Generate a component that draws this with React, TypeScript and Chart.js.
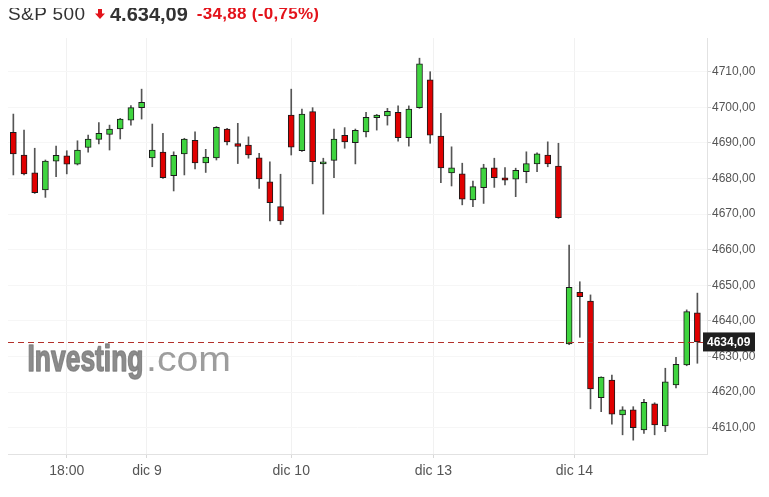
import React, { useEffect, useRef } from "react";
import { Chart, registerables } from "chart.js";

Chart.register(...registerables);

// 30-minute candles, 8-14 Dec
const OPEN = [
  4693.0, 4686.6, 4681.6, 4676.8, 4684.9, 4686.4, 4684.0, 4688.7, 4691.0, 4692.4, 4693.9, 4696.4, 4699.9,
  4685.8, 4687.4, 4680.8, 4686.9, 4690.7, 4684.4, 4685.8, 4693.9, 4689.8, 4689.4, 4685.8, 4679.1, 4672.1,
  4697.8, 4687.8, 4698.8, 4684.1, 4685.1, 4692.1, 4690.1, 4693.1, 4697.1, 4697.6, 4698.6, 4691.5, 4699.9,
  4707.7, 4691.9, 4681.6, 4681.3, 4674.0, 4677.4, 4683.0, 4680.2, 4679.8, 4681.9, 4684.1, 4686.6, 4683.5,
  4633.5, 4648.0, 4645.6, 4618.4, 4623.4, 4613.6, 4615.0, 4609.4, 4616.7, 4610.5, 4622.0, 4627.6, 4642.3,
];
const HIGH = [
  4698.1, 4693.6, 4688.5, 4685.2, 4689.1, 4687.8, 4690.6, 4692.2, 4695.7, 4695.0, 4696.9, 4700.5, 4705.1,
  4695.3, 4692.7, 4687.5, 4691.3, 4693.1, 4688.2, 4694.6, 4694.1, 4695.5, 4691.7, 4687.1, 4684.7, 4681.2,
  4705.1, 4699.5, 4699.9, 4685.7, 4693.9, 4694.3, 4693.9, 4698.6, 4698.0, 4699.7, 4700.4, 4700.4, 4713.8,
  4710.0, 4698.3, 4688.9, 4684.3, 4679.3, 4684.0, 4685.7, 4683.1, 4682.9, 4687.5, 4687.2, 4690.3, 4689.9,
  4661.3, 4651.0, 4647.3, 4624.3, 4624.8, 4615.9, 4615.9, 4618.0, 4617.0, 4626.7, 4629.8, 4643.1, 4647.8,
];
const LOW = [
  4681.0, 4681.0, 4675.8, 4674.7, 4680.5, 4681.3, 4683.8, 4687.4, 4689.7, 4688.0, 4691.1, 4695.0, 4696.7,
  4683.3, 4680.0, 4676.5, 4681.0, 4682.7, 4681.7, 4685.2, 4689.4, 4684.2, 4685.7, 4677.2, 4668.1, 4667.1,
  4686.6, 4687.6, 4678.5, 4670.0, 4680.2, 4688.5, 4684.1, 4691.7, 4693.6, 4695.0, 4690.5, 4689.1, 4699.7,
  4689.9, 4678.8, 4677.9, 4672.6, 4672.1, 4673.0, 4677.5, 4678.2, 4674.9, 4678.8, 4681.9, 4683.3, 4668.8,
  4633.3, 4635.4, 4615.3, 4614.5, 4611.0, 4608.0, 4606.5, 4608.4, 4608.0, 4608.9, 4621.2, 4627.4, 4628.1,
];
const CLOSE = [
  4686.9, 4681.3, 4676.0, 4684.9, 4686.5, 4684.0, 4688.0, 4691.1, 4692.7, 4693.9, 4696.7, 4699.9, 4701.4,
  4688.0, 4680.2, 4686.5, 4691.1, 4684.4, 4686.0, 4694.4, 4690.3, 4689.0, 4686.6, 4679.9, 4673.2, 4668.1,
  4688.8, 4698.1, 4684.7, 4684.7, 4691.1, 4690.3, 4693.5, 4697.2, 4697.8, 4698.9, 4691.5, 4699.5, 4712.2,
  4692.2, 4683.0, 4683.0, 4674.2, 4677.7, 4683.0, 4680.2, 4679.5, 4682.3, 4684.2, 4686.9, 4684.1, 4669.0,
  4649.4, 4646.8, 4620.9, 4624.2, 4613.8, 4615.0, 4610.0, 4617.1, 4610.8, 4622.9, 4627.8, 4642.6, 4634.09,
];

const X_TICK_POS = [5, 12.5, 26, 39.3, 52.5];
const X_TICK_LABELS = ["18:00", "dic 9", "dic 10", "dic 13", "dic 14"];
const Y_TICKS = [4610, 4620, 4630, 4640, 4650, 4660, 4670, 4680, 4690, 4700, 4710];
const LAST_PRICE = 4634.09;

const GREEN = "#3fd43f";
const RED = "#e00000";

const fmt = (v: number) => v.toFixed(2).replace(".", ",");

const overlay = {
  id: "overlay",
  beforeDatasetsDraw(chart: any) {
    const ctx = chart.ctx;
    ctx.save();
    ctx.textBaseline = "alphabetic";
    ctx.font = 'bold 37px "Liberation Sans", Arial, sans-serif';
    const w1 = ctx.measureText("Investing").width;
    ctx.fillStyle = "rgba(128,128,128,0.9)";
    ctx.strokeStyle = "rgba(128,128,128,0.9)";
    ctx.lineWidth = 1.6;
    ctx.lineJoin = "round";
    ctx.translate(19.5, 363);
    ctx.scale(116 / w1, 1);
    ctx.fillText("Investing", 0, 0);
    ctx.strokeText("Investing", 0, 0);
    ctx.restore();
    ctx.save();
    ctx.font = '35px "Liberation Sans", Arial, sans-serif';
    const w2 = ctx.measureText(".com").width;
    ctx.fillStyle = "rgba(140,140,140,0.85)";
    ctx.translate(138, 363);
    ctx.scale(85 / w2, 1);
    ctx.fillText(".com", 0, 0);
    ctx.restore();
  },
  afterDatasetsDraw(chart: any) {
    const { ctx, chartArea, scales } = chart;
    const y = Math.round(scales.y.getPixelForValue(LAST_PRICE)) + 0.5;
    ctx.save();
    ctx.strokeStyle = "#b3302a";
    ctx.lineWidth = 1;
    ctx.setLineDash([6, 4]);
    ctx.beginPath();
    ctx.moveTo(chartArea.left, y);
    ctx.lineTo(chartArea.right, y);
    ctx.stroke();
    ctx.restore();
  },
  afterDraw(chart: any) {
    const { ctx, chartArea, scales } = chart;
    const y = scales.y.getPixelForValue(LAST_PRICE);
    ctx.save();
    ctx.fillStyle = "#1f1f1f";
    ctx.fillRect(chartArea.right - 4, y - 9.5, 52, 19);
    ctx.fillStyle = "#ffffff";
    ctx.font = 'bold 12px "Liberation Sans", Arial, sans-serif';
    ctx.textBaseline = "middle";
    ctx.textAlign = "left";
    ctx.fillText(fmt(LAST_PRICE), chartArea.right + 0, y + 0.5);
    ctx.restore();
  },
};

export default function App() {
  const ref = useRef<HTMLCanvasElement>(null);
  useEffect(() => {
    const canvas = ref.current;
    if (!canvas) return;
    const idx = OPEN.map((_, i) => i);
    const chart = new Chart(canvas, {
      type: "bar",
      data: {
        datasets: [
          {
            label: "body",
            data: idx.map((i) => ({ x: i, y: [OPEN[i], CLOSE[i]] })) as any,
            backgroundColor: idx.map((i) => (CLOSE[i] >= OPEN[i] ? GREEN : RED)),
            borderColor: "#1a1a1a",
            borderWidth: 1,
            borderSkipped: false,
            barThickness: 6,
            grouped: false,
            minBarLength: 2,
            order: 0,
          } as any,
          {
            label: "wick",
            data: idx.map((i) => ({ x: i, y: [LOW[i], HIGH[i]] })) as any,
            backgroundColor: "#555555",
            borderWidth: 0,
            barThickness: 1,
            grouped: false,
            order: 1,
          } as any,
        ],
      },
      options: {
        responsive: false,
        animation: false,
        devicePixelRatio: 1,
        layout: { padding: { top: 30, left: 0, right: 0, bottom: 0 } },
        plugins: { legend: { display: false }, tooltip: { enabled: false } },
        scales: {
          x: {
            type: "linear",
            min: -0.5,
            max: 64.9,
            offset: false,
            afterBuildTicks: (s: any) => {
              s.ticks = X_TICK_POS.map((v) => ({ value: v }));
            },
            afterFit: (s: any) => {
              s.height = 43;
            },
            grid: { offset: false, color: "#f1f1f1", tickColor: "#d8d8d8", tickLength: 4, drawTicks: true },
            border: { color: "#e2e2e2" },
            ticks: {
              autoSkip: false,
              maxRotation: 0,
              padding: 5,
              color: "#555",
              font: { family: '"Liberation Sans", Arial, sans-serif', size: 14 },
              callback: (_v: any, i: number) => X_TICK_LABELS[i],
            },
          },
          y: {
            position: "right",
            min: 4602.61,
            max: 4719.47,
            afterBuildTicks: (s: any) => {
              s.ticks = Y_TICKS.map((v) => ({ value: v }));
            },
            afterFit: (s: any) => {
              s.width = 62;
            },
            grid: { color: "#f6f6f6", tickColor: "#d8d8d8", tickLength: 4 },
            border: { color: "#e2e2e2" },
            ticks: {
              padding: 1,
              color: "#555",
              font: { family: '"Liberation Sans", Arial, sans-serif', size: 12 },
              callback: (v: any) => fmt(Number(v)),
            },
          },
        },
      } as any,
      plugins: [overlay as any],
    });
    return () => chart.destroy();
  }, []);

  const hdr: React.CSSProperties = {
    position: "absolute",
    whiteSpace: "nowrap",
    fontFamily: '"Liberation Sans", Arial, sans-serif',
  };

  return (
    <div style={{ position: "relative", width: 761, height: 489 }}>
      <canvas ref={ref} width={761} height={489} style={{ position: "absolute", left: 0, top: 0 }} />
      <span style={{ ...hdr, left: 0, top: -4, fontSize: 19, lineHeight: "20px", letterSpacing: "0.4px", color: "#333" }}>
        S&amp;P 500
      </span>
      <svg style={{ position: "absolute", left: 87, top: 1 }} width="10" height="10" viewBox="0 0 10 10">
        <polygon points="3,0 7,0 7,4.5 10,4.5 5,10 0,4.5 3,4.5" fill="#e3131b" />
      </svg>
      <span style={{ ...hdr, left: 102, top: -4, fontSize: 20, lineHeight: "20px", fontWeight: "bold", color: "#333" }}>
        4.634,09
      </span>
      <span style={{ ...hdr, left: 188.7, top: -4, fontSize: 17, lineHeight: "20px", letterSpacing: "0.3px", fontWeight: "bold", color: "#e3131b" }}>
        -34,88 (-0,75%)
      </span>
    </div>
  );
}
